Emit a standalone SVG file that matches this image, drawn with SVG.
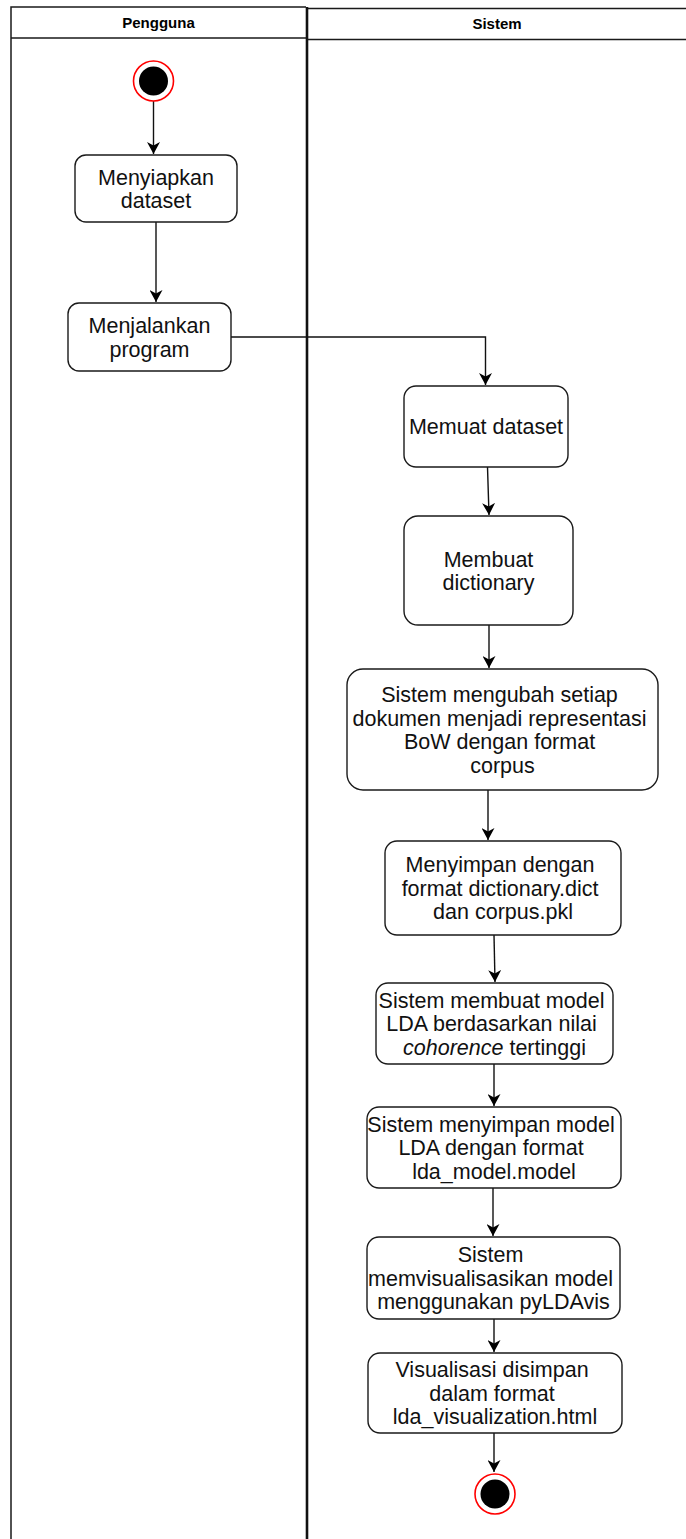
<svg xmlns="http://www.w3.org/2000/svg" width="686" height="1539" viewBox="0 0 686 1539">
  <style>
    .lane { fill: none; stroke: #1a1a1a; stroke-width: 1.5; }
    .divider { stroke: #111; stroke-width: 2.6; }
    .head { font-family: "Liberation Sans", Arial, sans-serif; font-size: 15px; font-weight: bold; fill: #000; text-anchor: middle; }
    .act { fill: #fff; stroke: #1a1a1a; stroke-width: 1.4; }
    .lbl { font-family: "Liberation Sans", Arial, sans-serif; font-size: 21.5px; fill: #111; text-anchor: middle; }
    .edge { fill: none; stroke: #111; stroke-width: 1.4; }
    .ring { fill: #fff; stroke: #ff0000; stroke-width: 1.6; }
    .dot { fill: #000; }
  </style>
  <defs>
    <marker id="arrow" markerUnits="userSpaceOnUse" markerWidth="13" markerHeight="13" refX="12" refY="6.5" orient="auto">
      <path d="M0,0 L12,6.5 L0,13 L3.5,6.5 Z" fill="#000"/>
    </marker>
  </defs>

  <rect width="686" height="1539" fill="#fff"/>

  <!-- swimlanes -->
  <g id="lane-pengguna">
    <path class="lane" d="M11,1539 V7 H306 M11,38 H306"/>
    <text class="head" x="158.5" y="28">Pengguna</text>
  </g>
  <g id="lane-sistem">
    <path class="lane" d="M308,8.5 H686 M308,39.5 H686"/>
    <text class="head" x="497" y="29">Sistem</text>
  </g>
  <line class="divider" x1="307" y1="7" x2="307" y2="1539"/>

  <!-- connectors -->
  <g id="connectors">
    <path class="edge" d="M153.5,101 V154" marker-end="url(#arrow)"/>
    <path class="edge" d="M156,222 V302" marker-end="url(#arrow)"/>
    <path class="edge" d="M231,337 H485.5 V385" marker-end="url(#arrow)"/>
    <path class="edge" d="M487.5,467 L489,515" marker-end="url(#arrow)"/>
    <path class="edge" d="M489,625 V668" marker-end="url(#arrow)"/>
    <path class="edge" d="M488,790 V840" marker-end="url(#arrow)"/>
    <path class="edge" d="M494,935 L495,982" marker-end="url(#arrow)"/>
    <path class="edge" d="M494,1064 V1106" marker-end="url(#arrow)"/>
    <path class="edge" d="M493,1188 V1236" marker-end="url(#arrow)"/>
    <path class="edge" d="M494,1319 V1352" marker-end="url(#arrow)"/>
    <path class="edge" d="M494,1433 V1472" marker-end="url(#arrow)"/>
  </g>

  <!-- start node -->
  <g id="start">
    <circle class="ring" cx="153.5" cy="81" r="20"/>
    <circle class="dot" cx="153.5" cy="81" r="14.5"/>
  </g>

  <g id="menyiapkan-dataset">
    <rect class="act" x="75" y="155" width="162" height="67" rx="11"/>
    <text class="lbl"><tspan x="156" y="184.5">Menyiapkan</tspan><tspan x="156" y="208">dataset</tspan></text>
  </g>

  <g id="menjalankan-program">
    <rect class="act" x="68" y="303" width="163" height="68" rx="11"/>
    <text class="lbl"><tspan x="149.5" y="333">Menjalankan</tspan><tspan x="149.5" y="356.5">program</tspan></text>
  </g>

  <g id="memuat-dataset">
    <rect class="act" x="404" y="386" width="164" height="81" rx="12"/>
    <text class="lbl" x="486" y="434">Memuat dataset</text>
  </g>

  <g id="membuat-dictionary">
    <rect class="act" x="404" y="516" width="169" height="109" rx="14"/>
    <text class="lbl"><tspan x="488.5" y="566.5">Membuat</tspan><tspan x="488.5" y="590">dictionary</tspan></text>
  </g>

  <g id="representasi-bow">
    <rect class="act" x="347" y="669" width="311" height="121" rx="16"/>
    <text class="lbl">
      <tspan x="502.5" y="702">Sistem mengubah setiap</tspan>
      <tspan x="502.5" y="725.5">dokumen menjadi representasi</tspan>
      <tspan x="502.5" y="749">BoW dengan format</tspan>
      <tspan x="502.5" y="772.5">corpus</tspan>
    </text>
  </g>

  <g id="simpan-dictionary-corpus">
    <rect class="act" x="385" y="841" width="236" height="94" rx="12"/>
    <text class="lbl">
      <tspan x="503" y="872">Menyimpan dengan</tspan>
      <tspan x="503" y="895.5">format dictionary.dict</tspan>
      <tspan x="503" y="919">dan corpus.pkl</tspan>
    </text>
  </g>

  <g id="buat-model-lda">
    <rect class="act" x="376" y="983" width="237" height="81" rx="12"/>
    <text class="lbl">
      <tspan x="494.5" y="1007.5">Sistem membuat model</tspan>
      <tspan x="494.5" y="1031">LDA berdasarkan nilai</tspan>
      <tspan x="494.5" y="1054.5"><tspan font-style="italic">cohorence</tspan> tertinggi</tspan>
    </text>
  </g>

  <g id="simpan-model-lda">
    <rect class="act" x="367" y="1107" width="254" height="81" rx="12"/>
    <text class="lbl">
      <tspan x="494" y="1131.5">Sistem menyimpan model</tspan>
      <tspan x="494" y="1155">LDA dengan format</tspan>
      <tspan x="494" y="1178.5">lda_model.model</tspan>
    </text>
  </g>

  <g id="visualisasi-pyldavis">
    <rect class="act" x="367" y="1237" width="253" height="82" rx="12"/>
    <text class="lbl">
      <tspan x="493.5" y="1262">Sistem</tspan>
      <tspan x="493.5" y="1285.5">memvisualisasikan model</tspan>
      <tspan x="493.5" y="1309">menggunakan pyLDAvis</tspan>
    </text>
  </g>

  <g id="simpan-visualisasi">
    <rect class="act" x="368" y="1353" width="254" height="80" rx="12"/>
    <text class="lbl">
      <tspan x="495" y="1377">Visualisasi disimpan</tspan>
      <tspan x="495" y="1400.5">dalam format</tspan>
      <tspan x="495" y="1424">lda_visualization.html</tspan>
    </text>
  </g>

  <!-- end node -->
  <g id="end">
    <circle class="ring" cx="495" cy="1494" r="20"/>
    <circle class="dot" cx="495" cy="1494" r="14.5"/>
  </g>
</svg>
